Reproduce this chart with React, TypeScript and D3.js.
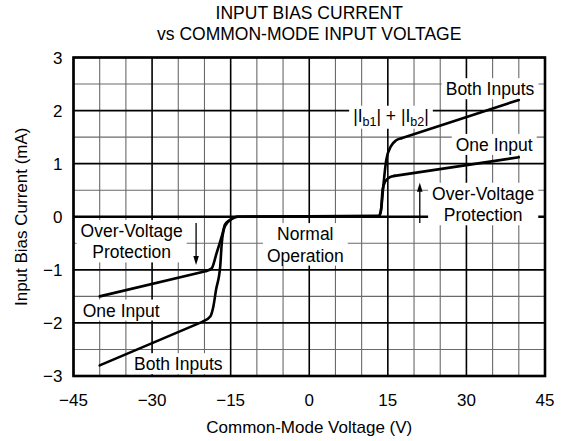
import React, { useEffect, useRef } from 'react';
import * as d3 from 'd3';

const width = 572;
const height = 441;

const titleLines = ['INPUT BIAS CURRENT', 'vs COMMON-MODE INPUT VOLTAGE'];
const xLabel = 'Common-Mode Voltage (V)';
const yLabel = 'Input Bias Current (mA)';

const xTicks = [-45, -30, -15, 0, 15, 30, 45];
const yTicks = [-3, -2, -1, 0, 1, 2, 3];

// one input over-driven
const oneInputV = [-40, -19.6, -18.6, -17.7, -16.5, -16.1, -15.1, -13.8, 13.3, 13.7, 14.0, 14.55, 15.3, 16.3, 40];
const oneInputI = [-1.5, -1.02, -0.97, -0.69, -0.3, -0.15, -0.06, 0, 0, 0.12, 0.51, 0.67, 0.74, 0.77, 1.12];

// both inputs over-driven, |Ib1| + |Ib2|
const bothInputsV = [-40, -20.2, -18.9, -18.3, -17.8, -17.0, -16.7, -16.1, -14.8, -13.6, 13.3, 13.7, 14.2, 14.7, 15.6, 16.6, 17.6, 40];
const bothInputsI = [-2.8, -1.97, -1.88, -1.69, -1.38, -0.94, -0.5, -0.18, -0.04, 0, 0.02, 0.13, 0.64, 1.07, 1.33, 1.44, 1.48, 2.2];

// text notes, placed in data units (center x, baseline of first line)
const notes = [
  { lines: ['Both Inputs'], v: 34.5, i: 2.29 },
  { lines: ['One Input'], v: 35.3, i: 1.24 },
  { lines: ['Over-Voltage', 'Protection'], v: 33.2, i: 0.32 },
  { lines: ['Over-Voltage', 'Protection'], v: -33.9, i: -0.38 },
  { lines: ['Normal', 'Operation'], v: -0.75, i: -0.44 },
  { lines: ['One Input'], v: -35.9, i: -1.88 },
  { lines: ['Both Inputs'], v: -25.0, i: -2.89 },
];
const sumNote = { v: 15.6, i: 1.79 };

const arrows = [
  { v: -21.6, from: -0.12, to: -0.91 },
  { v: 21.1, from: -0.12, to: 0.64 },
];

const font = 'Liberation Sans, Arial, Helvetica, sans-serif';

export default function App() {
  const svgRef = useRef<SVGSVGElement>(null);

  useEffect(() => {
    const svg = d3.select(svgRef.current);
    svg.selectAll('*').remove();

    const margin = { top: 57.5, right: 27, bottom: 65, left: 73.5 };
    const x = d3.scaleLinear().domain([-45, 45]).range([margin.left, width - margin.right]);
    const y = d3.scaleLinear().domain([-3, 3]).range([height - margin.bottom, margin.top]);

    // grid
    const grid = svg.append('g');
    const xs = d3.range(-45, 46, 5);
    const ys = d3.range(-3, 3.01, 0.5);
    const isMajorX = (v: number) => v % 15 === 0;
    const isMajorY = (v: number) => Number.isInteger(v);

    const drawGrid = (major: boolean) => {
      xs.filter(v => isMajorX(v) === major).forEach(v => {
        grid.append('line')
          .attr('x1', x(v)).attr('x2', x(v))
          .attr('y1', y(-3)).attr('y2', y(3))
          .attr('stroke', major ? '#000' : '#6a6a6a')
          .attr('stroke-width', major ? 1.6 : 1.1);
      });
      ys.filter(v => isMajorY(v) === major).forEach(v => {
        grid.append('line')
          .attr('x1', x(-45)).attr('x2', x(45))
          .attr('y1', y(v)).attr('y2', y(v))
          .attr('stroke', major ? '#000' : '#6a6a6a')
          .attr('stroke-width', major ? 1.6 : 1.1);
      });
    };
    drawGrid(false);
    drawGrid(true);

    svg.append('line')
      .attr('x1', x(-45)).attr('x2', x(45))
      .attr('y1', y(0)).attr('y2', y(0))
      .attr('stroke', '#000')
      .attr('stroke-width', 2.6);

    // notes with white boxes
    notes.forEach(n => {
      const g = svg.append('g');
      const t = g.append('text')
        .attr('font-family', font)
        .attr('font-size', 17.5)
        .attr('fill', '#000')
        .attr('text-anchor', 'middle');
      n.lines.forEach((line, k) => {
        t.append('tspan')
          .attr('x', x(n.v))
          .attr('y', y(n.i) + k * 21.5)
          .text(line);
      });
      const b = (t.node() as SVGTextElement).getBBox();
      g.insert('rect', 'text')
        .attr('x', b.x - 4).attr('y', b.y - 1)
        .attr('width', b.width + 8).attr('height', b.height + 1)
        .attr('fill', '#fff');
    });

    // |Ib1| + |Ib2|
    const sg = svg.append('g');
    const st = sg.append('text')
      .attr('font-family', font)
      .attr('font-size', 17.5)
      .attr('fill', '#000')
      .attr('text-anchor', 'middle')
      .attr('x', x(sumNote.v))
      .attr('y', y(sumNote.i));
    st.append('tspan').text('|I');
    st.append('tspan').attr('font-size', 12.5).attr('dy', 4).text('b1');
    st.append('tspan').attr('dy', -4).text('| + |I');
    st.append('tspan').attr('font-size', 12.5).attr('dy', 4).text('b2');
    st.append('tspan').attr('dy', -4).text('|');
    const sb = (st.node() as SVGTextElement).getBBox();
    sg.insert('rect', 'text')
      .attr('x', sb.x - 4).attr('y', sb.y)
      .attr('width', sb.width + 8).attr('height', sb.height)
      .attr('fill', '#fff');

    // arrows
    arrows.forEach(a => {
      const dir = Math.sign(y(a.to) - y(a.from));
      const tip = y(a.to);
      svg.append('line')
        .attr('x1', x(a.v)).attr('x2', x(a.v))
        .attr('y1', y(a.from)).attr('y2', tip - dir * 6)
        .attr('stroke', '#000')
        .attr('stroke-width', 1.3);
      svg.append('path')
        .attr('d', `M${x(a.v)},${tip} L${x(a.v) - 2.8},${tip - dir * 9} L${x(a.v) + 2.8},${tip - dir * 9} Z`)
        .attr('fill', '#000');
    });

    // curves: straight outer legs, smooth knees in between
    const smooth = d3.line<[number, number]>()
      .x(d => x(d[0]))
      .y(d => y(d[1]))
      .curve(d3.curveMonotoneX);
    const straight = d3.line<[number, number]>()
      .x(d => x(d[0]))
      .y(d => y(d[1]));

    const series = [
      oneInputV.map((v, k) => [v, oneInputI[k]] as [number, number]),
      bothInputsV.map((v, k) => [v, bothInputsI[k]] as [number, number]),
    ];
    series.forEach(s => {
      const n = s.length;
      const pieces = [
        { pts: s.slice(0, 2), gen: straight },
        { pts: s.slice(1, n - 1), gen: smooth },
        { pts: s.slice(n - 2), gen: straight },
      ];
      pieces.forEach(p => {
        svg.append('path')
          .datum(p.pts)
          .attr('fill', 'none')
          .attr('stroke', '#000')
          .attr('stroke-width', 2.6)
          .attr('stroke-linecap', 'round')
          .attr('stroke-linejoin', 'round')
          .attr('d', p.gen);
      });
    });

    // frame
    svg.append('rect')
      .attr('x', x(-45)).attr('y', y(3))
      .attr('width', x(45) - x(-45)).attr('height', y(-3) - y(3))
      .attr('fill', 'none')
      .attr('stroke', '#000')
      .attr('stroke-width', 2.6);

    // tick labels
    const fmt = (v: number) => (v < 0 ? '\u2212' + Math.abs(v) : String(v));
    xTicks.forEach(v => {
      svg.append('text')
        .attr('x', x(v)).attr('y', y(-3) + 30)
        .attr('text-anchor', 'middle')
        .attr('font-family', font)
        .attr('font-size', 17)
        .text(fmt(v));
    });
    yTicks.forEach(v => {
      svg.append('text')
        .attr('x', x(-45) - 11).attr('y', y(v))
        .attr('dy', '0.36em')
        .attr('text-anchor', 'end')
        .attr('font-family', font)
        .attr('font-size', 17)
        .text(fmt(v));
    });

    // titles
    titleLines.forEach((s, k) => {
      svg.append('text')
        .attr('x', (x(-45) + x(45)) / 2)
        .attr('y', 19 + k * 20.5)
        .attr('text-anchor', 'middle')
        .attr('font-family', font)
        .attr('font-size', 17.5)
        .text(s);
    });

    svg.append('text')
      .attr('x', (x(-45) + x(45)) / 2)
      .attr('y', 433)
      .attr('text-anchor', 'middle')
      .attr('font-family', font)
      .attr('font-size', 17)
      .text(xLabel);

    svg.append('text')
      .attr('transform', 'rotate(-90)')
      .attr('x', -(y(-3) + y(3)) / 2)
      .attr('y', 27)
      .attr('text-anchor', 'middle')
      .attr('font-family', font)
      .attr('font-size', 17)
      .text(yLabel);
  }, []);

  return (
    <svg
      ref={svgRef}
      width={width}
      height={height}
      style={{ position: 'absolute', left: 0, top: 0, background: '#fff', display: 'block' }}
    />
  );
}
